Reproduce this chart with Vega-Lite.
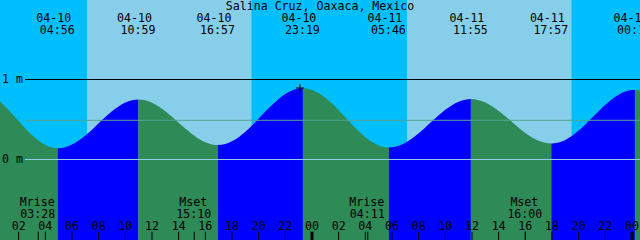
{
  "$schema": "https://vega.github.io/schema/vega-lite/v6.json",
  "width": 640,
  "height": 240,
  "autosize": "none",
  "padding": 0,
  "background": "#00BFFF",
  "config": {"view": {"stroke": null}, "text": {"font": "DejaVu Sans Mono", "fontSize": 11.6, "color": "black"}},
  "datasets": {
    "sky": [
      {"s": 0.6, "e": 7.125, "p": "night"},
      {"s": 7.125, "e": 19.48, "p": "day"},
      {"s": 19.48, "e": 31.125, "p": "night"},
      {"s": 31.125, "e": 43.48, "p": "day"},
      {"s": 43.48, "e": 48.6, "p": "night"}
    ],
    "tide": [
      {"h": 0.6, "v": 0.726, "s": "A", "d": "falling"},
      {"h": 1, "v": 0.662, "s": "A", "d": "falling"},
      {"h": 1.5, "v": 0.573, "s": "A", "d": "falling"},
      {"h": 2, "v": 0.48, "s": "A", "d": "falling"},
      {"h": 2.5, "v": 0.389, "s": "A", "d": "falling"},
      {"h": 3, "v": 0.305, "s": "A", "d": "falling"},
      {"h": 3.5, "v": 0.234, "s": "A", "d": "falling"},
      {"h": 4, "v": 0.181, "s": "A", "d": "falling"},
      {"h": 4.5, "v": 0.149, "s": "A", "d": "falling"},
      {"h": 4.933, "v": 0.14, "s": "A", "d": "falling"},
      {"h": 4.933, "v": 0.14, "s": "B", "d": "rising"},
      {"h": 5.5, "v": 0.153, "s": "B", "d": "rising"},
      {"h": 6, "v": 0.186, "s": "B", "d": "rising"},
      {"h": 6.5, "v": 0.236, "s": "B", "d": "rising"},
      {"h": 7, "v": 0.3, "s": "B", "d": "rising"},
      {"h": 7.5, "v": 0.373, "s": "B", "d": "rising"},
      {"h": 8, "v": 0.452, "s": "B", "d": "rising"},
      {"h": 8.5, "v": 0.53, "s": "B", "d": "rising"},
      {"h": 9, "v": 0.602, "s": "B", "d": "rising"},
      {"h": 9.5, "v": 0.664, "s": "B", "d": "rising"},
      {"h": 10, "v": 0.711, "s": "B", "d": "rising"},
      {"h": 10.5, "v": 0.74, "s": "B", "d": "rising"},
      {"h": 10.983, "v": 0.75, "s": "B", "d": "rising"},
      {"h": 10.983, "v": 0.75, "s": "C", "d": "falling"},
      {"h": 11.5, "v": 0.74, "s": "C", "d": "falling"},
      {"h": 12, "v": 0.71, "s": "C", "d": "falling"},
      {"h": 12.5, "v": 0.664, "s": "C", "d": "falling"},
      {"h": 13, "v": 0.604, "s": "C", "d": "falling"},
      {"h": 13.5, "v": 0.534, "s": "C", "d": "falling"},
      {"h": 14, "v": 0.46, "s": "C", "d": "falling"},
      {"h": 14.5, "v": 0.386, "s": "C", "d": "falling"},
      {"h": 15, "v": 0.318, "s": "C", "d": "falling"},
      {"h": 15.5, "v": 0.259, "s": "C", "d": "falling"},
      {"h": 16, "v": 0.215, "s": "C", "d": "falling"},
      {"h": 16.5, "v": 0.188, "s": "C", "d": "falling"},
      {"h": 16.95, "v": 0.18, "s": "C", "d": "falling"},
      {"h": 16.95, "v": 0.18, "s": "D", "d": "rising"},
      {"h": 17.5, "v": 0.193, "s": "D", "d": "rising"},
      {"h": 18, "v": 0.227, "s": "D", "d": "rising"},
      {"h": 18.5, "v": 0.279, "s": "D", "d": "rising"},
      {"h": 19, "v": 0.347, "s": "D", "d": "rising"},
      {"h": 19.5, "v": 0.426, "s": "D", "d": "rising"},
      {"h": 20, "v": 0.512, "s": "D", "d": "rising"},
      {"h": 20.5, "v": 0.599, "s": "D", "d": "rising"},
      {"h": 21, "v": 0.682, "s": "D", "d": "rising"},
      {"h": 21.5, "v": 0.757, "s": "D", "d": "rising"},
      {"h": 22, "v": 0.818, "s": "D", "d": "rising"},
      {"h": 22.5, "v": 0.861, "s": "D", "d": "rising"},
      {"h": 23, "v": 0.886, "s": "D", "d": "rising"},
      {"h": 23.317, "v": 0.89, "s": "D", "d": "rising"},
      {"h": 23.317, "v": 0.89, "s": "E", "d": "falling"},
      {"h": 23.5, "v": 0.889, "s": "E", "d": "falling"},
      {"h": 24, "v": 0.87, "s": "E", "d": "falling"},
      {"h": 24.5, "v": 0.83, "s": "E", "d": "falling"},
      {"h": 25, "v": 0.772, "s": "E", "d": "falling"},
      {"h": 25.5, "v": 0.7, "s": "E", "d": "falling"},
      {"h": 26, "v": 0.616, "s": "E", "d": "falling"},
      {"h": 26.5, "v": 0.528, "s": "E", "d": "falling"},
      {"h": 27, "v": 0.438, "s": "E", "d": "falling"},
      {"h": 27.5, "v": 0.354, "s": "E", "d": "falling"},
      {"h": 28, "v": 0.279, "s": "E", "d": "falling"},
      {"h": 28.5, "v": 0.218, "s": "E", "d": "falling"},
      {"h": 29, "v": 0.176, "s": "E", "d": "falling"},
      {"h": 29.5, "v": 0.153, "s": "E", "d": "falling"},
      {"h": 29.767, "v": 0.15, "s": "E", "d": "falling"},
      {"h": 29.767, "v": 0.15, "s": "F", "d": "rising"},
      {"h": 30, "v": 0.152, "s": "F", "d": "rising"},
      {"h": 30.5, "v": 0.171, "s": "F", "d": "rising"},
      {"h": 31, "v": 0.208, "s": "F", "d": "rising"},
      {"h": 31.5, "v": 0.261, "s": "F", "d": "rising"},
      {"h": 32, "v": 0.327, "s": "F", "d": "rising"},
      {"h": 32.5, "v": 0.4, "s": "F", "d": "rising"},
      {"h": 33, "v": 0.477, "s": "F", "d": "rising"},
      {"h": 33.5, "v": 0.552, "s": "F", "d": "rising"},
      {"h": 34, "v": 0.621, "s": "F", "d": "rising"},
      {"h": 34.5, "v": 0.679, "s": "F", "d": "rising"},
      {"h": 35, "v": 0.722, "s": "F", "d": "rising"},
      {"h": 35.5, "v": 0.748, "s": "F", "d": "rising"},
      {"h": 35.917, "v": 0.755, "s": "F", "d": "rising"},
      {"h": 35.917, "v": 0.755, "s": "G", "d": "falling"},
      {"h": 36.5, "v": 0.742, "s": "G", "d": "falling"},
      {"h": 37, "v": 0.712, "s": "G", "d": "falling"},
      {"h": 37.5, "v": 0.666, "s": "G", "d": "falling"},
      {"h": 38, "v": 0.607, "s": "G", "d": "falling"},
      {"h": 38.5, "v": 0.54, "s": "G", "d": "falling"},
      {"h": 39, "v": 0.468, "s": "G", "d": "falling"},
      {"h": 39.5, "v": 0.397, "s": "G", "d": "falling"},
      {"h": 40, "v": 0.331, "s": "G", "d": "falling"},
      {"h": 40.5, "v": 0.275, "s": "G", "d": "falling"},
      {"h": 41, "v": 0.233, "s": "G", "d": "falling"},
      {"h": 41.5, "v": 0.208, "s": "G", "d": "falling"},
      {"h": 41.95, "v": 0.2, "s": "G", "d": "falling"},
      {"h": 41.95, "v": 0.2, "s": "H", "d": "rising"},
      {"h": 42.5, "v": 0.213, "s": "H", "d": "rising"},
      {"h": 43, "v": 0.245, "s": "H", "d": "rising"},
      {"h": 43.5, "v": 0.296, "s": "H", "d": "rising"},
      {"h": 44, "v": 0.362, "s": "H", "d": "rising"},
      {"h": 44.5, "v": 0.438, "s": "H", "d": "rising"},
      {"h": 45, "v": 0.521, "s": "H", "d": "rising"},
      {"h": 45.5, "v": 0.604, "s": "H", "d": "rising"},
      {"h": 46, "v": 0.683, "s": "H", "d": "rising"},
      {"h": 46.5, "v": 0.753, "s": "H", "d": "rising"},
      {"h": 47, "v": 0.81, "s": "H", "d": "rising"},
      {"h": 47.5, "v": 0.849, "s": "H", "d": "rising"},
      {"h": 48, "v": 0.868, "s": "H", "d": "rising"},
      {"h": 48.217, "v": 0.87, "s": "H", "d": "rising"},
      {"h": 48.217, "v": 0.87, "s": "I", "d": "falling"},
      {"h": 48.4, "v": 0.868, "s": "I", "d": "falling"},
      {"h": 48.6, "v": 0.862, "s": "I", "d": "falling"}
    ],
    "events": [
      {"h": 4.933, "date": "04-10", "time": "04:56"},
      {"h": 10.983, "date": "04-10", "time": "10:59"},
      {"h": 16.95, "date": "04-10", "time": "16:57"},
      {"h": 23.317, "date": "04-10", "time": "23:19"},
      {"h": 29.767, "date": "04-11", "time": "05:46"},
      {"h": 35.917, "date": "04-11", "time": "11:55"},
      {"h": 41.95, "date": "04-11", "time": "17:57"},
      {"h": 48.217, "date": "04-12", "time": "00:13"}
    ],
    "moon": [
      {"h": 3.467, "name": "Mrise", "time": "03:28"},
      {"h": 15.167, "name": "Mset", "time": "15:10"},
      {"h": 28.183, "name": "Mrise", "time": "04:11"},
      {"h": 40.0, "name": "Mset", "time": "16:00"}
    ],
    "hours": [
      {"h": 2, "lab": "02"}, {"h": 4, "lab": "04"}, {"h": 6, "lab": "06"}, {"h": 8, "lab": "08"},
      {"h": 10, "lab": "10"}, {"h": 12, "lab": "12"}, {"h": 14, "lab": "14"}, {"h": 16, "lab": "16"},
      {"h": 18, "lab": "18"}, {"h": 20, "lab": "20"}, {"h": 22, "lab": "22"}, {"h": 24, "lab": "00"},
      {"h": 26, "lab": "02"}, {"h": 28, "lab": "04"}, {"h": 30, "lab": "06"}, {"h": 32, "lab": "08"},
      {"h": 34, "lab": "10"}, {"h": 36, "lab": "12"}, {"h": 38, "lab": "14"}, {"h": 40, "lab": "16"},
      {"h": 42, "lab": "18"}, {"h": 44, "lab": "20"}, {"h": 46, "lab": "22"}, {"h": 48, "lab": "00"}
    ],
    "levels": [
      {"v": 1, "lab": "1 m"},
      {"v": 0, "lab": "0 m"}
    ]
  },
  "encoding": {
    "x": {"type": "quantitative", "scale": {"domain": [0.6, 48.6], "nice": false, "zero": false}, "axis": null}
  },
  "layer": [
    {
      "data": {"name": "sky"},
      "mark": {"type": "rect"},
      "encoding": {
        "x": {"field": "s", "type": "quantitative", "scale": {"domain": [0.6, 48.6], "nice": false, "zero": false}, "axis": null},
        "x2": {"field": "e"},
        "y": {"datum": 1.99375, "type": "quantitative", "scale": {"domain": [-1.00625, 1.99375], "nice": false, "zero": false}, "axis": null},
        "y2": {"datum": -1.00625},
        "color": {"field": "p", "type": "nominal", "scale": {"domain": ["night", "day", "rising", "falling"], "range": ["#00BFFF", "#87CEEB", "#0000FF", "#2E8B57"]}, "legend": null}
      }
    },
    {
      "data": {"name": "tide"},
      "mark": {"type": "area", "interpolate": "monotone"},
      "encoding": {
        "x": {"field": "h", "type": "quantitative"},
        "y": {"field": "v", "type": "quantitative", "stack": null},
        "y2": {"datum": -1.00625},
        "color": {"field": "d", "type": "nominal", "legend": null},
        "detail": {"field": "s"}
      }
    },
    {
      "data": {"values": [{"v": 1}]},
      "mark": {"type": "rule", "color": "black", "strokeWidth": 1},
      "encoding": {"x": {"datum": 2.475}, "x2": {"datum": 48.6}, "y": {"field": "v", "type": "quantitative"}}
    },
    {
      "data": {"values": [{"v": 0.49}]},
      "mark": {"type": "rule", "color": "#55A393", "strokeWidth": 1},
      "encoding": {"x": {"datum": 2.475}, "x2": {"datum": 48.6}, "y": {"field": "v", "type": "quantitative"}}
    },
    {
      "data": {"values": [{"v": 0}]},
      "mark": {"type": "rule", "color": "#8CCFE6", "strokeWidth": 1},
      "encoding": {"x": {"datum": 2.475}, "x2": {"datum": 48.6}, "y": {"field": "v", "type": "quantitative"}}
    },
    {
      "data": {"name": "levels"},
      "mark": {"type": "text", "align": "left", "baseline": "alphabetic", "dy": 3},
      "encoding": {"x": {"datum": 0.75}, "y": {"field": "v", "type": "quantitative"}, "text": {"field": "lab"}}
    },
    {
      "data": {"values": [{"t": "Salina Cruz, Oaxaca, Mexico"}]},
      "mark": {"type": "text", "align": "center", "baseline": "alphabetic"},
      "encoding": {"x": {"datum": 24.6}, "y": {"datum": 1.869}, "text": {"field": "t"}}
    },
    {
      "data": {"name": "events"},
      "mark": {"type": "text", "align": "center", "baseline": "alphabetic", "dx": -4},
      "encoding": {"x": {"field": "h", "type": "quantitative"}, "y": {"datum": 1.719}, "text": {"field": "date"}}
    },
    {
      "data": {"name": "events"},
      "mark": {"type": "text", "align": "center", "baseline": "alphabetic", "dx": -0.5},
      "encoding": {"x": {"field": "h", "type": "quantitative"}, "y": {"datum": 1.569}, "text": {"field": "time"}}
    },
    {
      "data": {"name": "moon"},
      "mark": {"type": "text", "align": "center", "baseline": "alphabetic", "dx": -1},
      "encoding": {"x": {"field": "h", "type": "quantitative"}, "y": {"datum": -0.581}, "text": {"field": "name"}}
    },
    {
      "data": {"name": "moon"},
      "mark": {"type": "text", "align": "center", "baseline": "alphabetic", "dx": -0.5},
      "encoding": {"x": {"field": "h", "type": "quantitative"}, "y": {"datum": -0.727}, "text": {"field": "time"}}
    },
    {
      "data": {"name": "moon"},
      "mark": {"type": "rule", "color": "black", "strokeWidth": 1},
      "encoding": {"x": {"field": "h", "type": "quantitative"}, "y": {"datum": -0.902}, "y2": {"datum": -1.00625}}
    },
    {
      "data": {"name": "hours"},
      "mark": {"type": "text", "align": "center", "baseline": "alphabetic"},
      "encoding": {"x": {"field": "h", "type": "quantitative"}, "y": {"datum": -0.875}, "text": {"field": "lab"}}
    },
    {
      "data": {"name": "hours"},
      "transform": [{"filter": "datum.h % 24 != 0"}],
      "mark": {"type": "rule", "color": "black", "strokeWidth": 1},
      "encoding": {"x": {"field": "h", "type": "quantitative"}, "y": {"datum": -0.902}, "y2": {"datum": -1.00625}}
    },
    {
      "data": {"name": "hours"},
      "transform": [{"filter": "datum.h % 24 == 0"}],
      "mark": {"type": "rule", "color": "black", "strokeWidth": 3},
      "encoding": {"x": {"field": "h", "type": "quantitative"}, "y": {"datum": -0.902}, "y2": {"datum": -1.00625}}
    },
    {
      "data": {"values": [{"h": 23.1, "v": 0.894}]},
      "mark": {"type": "point", "shape": "M-1,0H1M0,-1V1", "filled": false, "stroke": "black", "strokeWidth": 1, "size": 64, "opacity": 1},
      "encoding": {"x": {"field": "h", "type": "quantitative"}, "y": {"field": "v", "type": "quantitative"}}
    }
  ]
}
